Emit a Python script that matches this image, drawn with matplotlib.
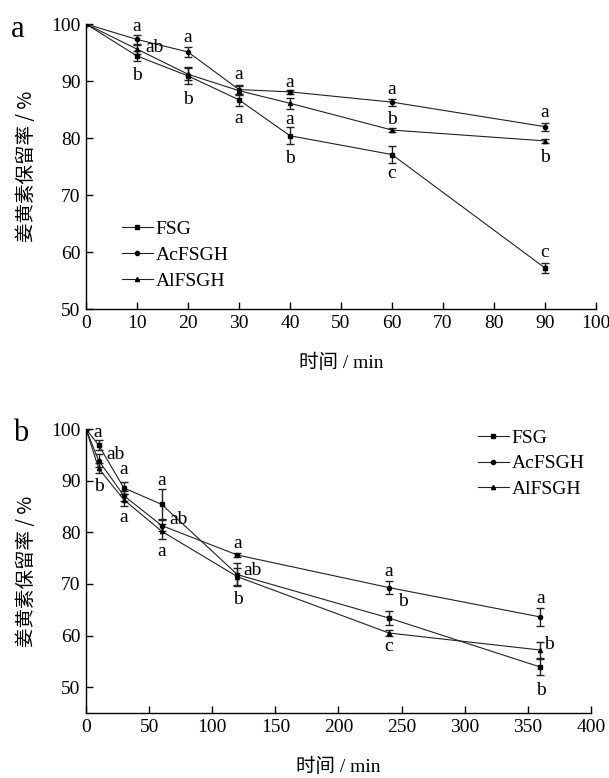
import matplotlib
matplotlib.use("Agg")
import matplotlib.pyplot as plt
from matplotlib.lines import Line2D

plt.rcParams['font.family'] = ['Liberation Serif', 'Noto Sans CJK SC']

series_names = ["FSG", "AcFSGH", "AlFSGH"]
markers = ["s", "o", "^"]

# Panel a
time_a = [0, 10, 20, 30, 40, 60, 90]
fsg_a = [100, 94.4, 90.9, 86.7, 80.4, 77.1, 57.2]
ac_a = [100, 97.3, 95.1, 88.5, 88.1, 86.3, 82.0]
al_a = [100, 95.6, 91.2, 88.3, 86.1, 81.4, 79.5]
fsg_a_err = [0, 0.8, 1.5, 1.0, 1.5, 1.5, 0.9]
ac_a_err = [0, 0.8, 0.9, 0.8, 0.4, 0.6, 0.7]
al_a_err = [0, 0.8, 1.0, 0.8, 1.0, 0.4, 0.4]
labels_a = [  # (x, y, text)
    (10, 99.6, "a"), (13.4, 95.8, "ab"), (10, 91.0, "b"),
    (20, 97.6, "a"), (20, 86.8, "b"),
    (30, 91.2, "a"), (30, 83.5, "a"),
    (40, 89.8, "a"), (40, 83.2, "a"), (40, 76.4, "b"),
    (60, 88.5, "a"), (60, 83.2, "b"), (60, 73.8, "c"),
    (90, 84.4, "a"), (90, 76.6, "b"), (90, 60.0, "c"),
]

# Panel b
time_b = [0, 10, 30, 60, 120, 240, 360]
fsg_b = [100, 96.9, 88.6, 85.4, 71.8, 63.4, 53.9]
ac_b = [100, 93.9, 87.1, 81.3, 75.6, 69.3, 63.6]
al_b = [100, 92.4, 86.3, 80.2, 71.4, 60.5, 57.2]
fsg_b_err = [0, 1.0, 1.2, 2.9, 2.2, 1.3, 1.5]
ac_b_err = [0, 1.3, 1.0, 1.0, 0.4, 1.3, 1.8]
al_b_err = [0, 1.0, 1.2, 1.5, 1.6, 0.6, 1.5]
labels_b = [
    (9, 99.3, "a"), (23.4, 95.0, "ab"), (10.3, 88.9, "b"),
    (30, 92.2, "a"), (30, 82.8, "a"),
    (60, 90.0, "a"), (73, 82.4, "ab"), (60, 76.3, "a"),
    (120, 77.9, "a"), (132, 72.7, "ab"), (120, 66.9, "b"),
    (240, 72.4, "a"), (251, 66.6, "b"), (240, 57.9, "c"),
    (360, 67.1, "a"), (367, 58.2, "b"), (360, 49.3, "b"),
]

fig = plt.figure(figsize=(6.09, 7.78), dpi=100)
ax_a = fig.add_axes([0.1412, 0.6028, 0.8374, 0.3663])
ax_b = fig.add_axes([0.1412, 0.0835, 0.8292, 0.3650])

def draw(ax, t, ys, errs, labels, xlim, ylim, xticks, yticks, legend_anchor):
    handles = []
    for y, e, m, name in zip(ys, errs, markers, series_names):
        ax.errorbar(t, y, yerr=e, color="#222222", lw=0.8, marker=m, ms=3.0,
                    mfc="black", mec="black", elinewidth=1.0, capsize=3.2,
                    capthick=1.0)
        handles.append(Line2D([], [], color="#222222", lw=0.8, marker=m, ms=3.0,
                              mfc="black", mec="black", label=name))
    for x, yv, s in labels:
        ax.text(x, yv, s, fontsize=14, ha="center", va="center")
    ax.set_xlim(*xlim)
    ax.set_ylim(*ylim)
    ax.set_xticks(xticks)
    ax.set_yticks(yticks)
    ax.spines["top"].set_visible(False)
    ax.spines["right"].set_visible(False)
    ax.spines["left"].set_linewidth(1.0)
    ax.spines["bottom"].set_linewidth(1.0)
    ax.tick_params(direction="in", length=5, width=1.0, labelsize=14, pad=4)
    ax.set_xlabel("时间 / min", fontsize=14, labelpad=16,
                  family=['Liberation Serif', 'Noto Sans CJK SC'])
    ax.set_ylabel("姜黄素保留率 / %", fontsize=14, labelpad=10,
                  family=['Noto Sans CJK SC', 'Liberation Serif'])
    ax.legend(handles=handles, loc="upper left", bbox_to_anchor=legend_anchor,
              frameon=False, fontsize=14, handlelength=1.6, handletextpad=0.15,
              labelspacing=0.42, borderaxespad=0, borderpad=0)

draw(ax_a, time_a, [fsg_a, ac_a, al_a], [fsg_a_err, ac_a_err, al_a_err], labels_a,
     (0, 100), (50, 100), range(0, 101, 10), range(50, 101, 10), (0.07, 0.31))
draw(ax_b, time_b, [fsg_b, ac_b, al_b], [fsg_b_err, ac_b_err, al_b_err], labels_b,
     (0, 400), (45, 100), range(0, 401, 50), range(50, 101, 10), (0.776, 1.0))

fig.text(0.018, 0.962, "a", fontsize=22, va="center", ha="left")
fig.text(0.022, 0.443, "b", fontsize=22, va="center", ha="left")

fig.savefig("out.png", dpi=100)
